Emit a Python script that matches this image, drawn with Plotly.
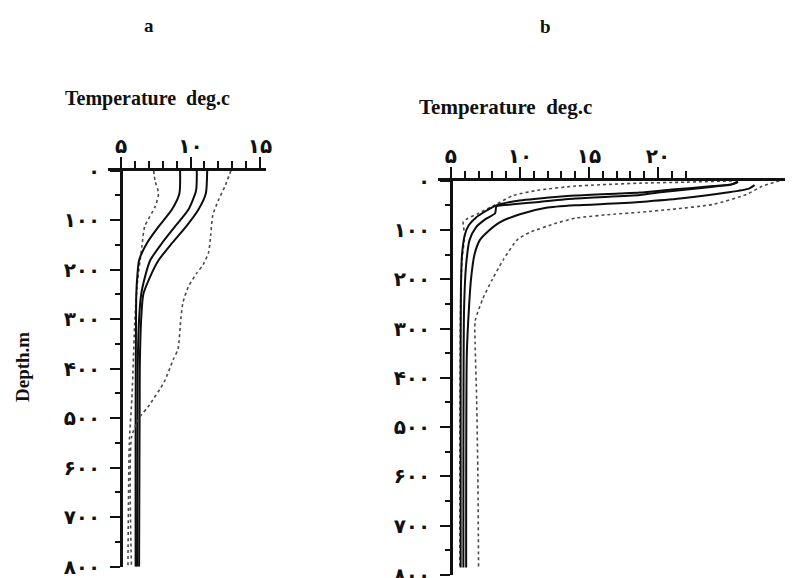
import plotly.graph_objects as go

W, H = 793, 578

# ---------------- data ----------------
# Panel a : (temperature deg C, depth m)
a_dot1_T = [7.35, 7.45, 7.7, 7.45, 6.7, 6.5, 6.37, 6.2, 6.0, 5.8, 5.6, 5.5]
a_dot1_D = [0, 20, 46, 73, 113, 154, 181, 220, 300, 450, 550, 800]
a_sol1_T = [9.25, 9.2, 8.65, 7.7, 6.85, 6.3, 6.17, 6.1, 6.08, 6.05, 6.05]
a_sol1_D = [0, 46, 79, 113, 147, 181, 214, 250, 300, 500, 800]
a_sol2_T = [10.45, 10.4, 9.84, 8.88, 7.93, 7.1, 6.73, 6.45, 6.3, 6.2, 6.15]
a_sol2_D = [0, 40, 79, 113, 147, 181, 214, 250, 300, 400, 800]
a_sol3_T = [11.2, 11.1, 10.56, 9.68, 8.65, 7.7, 7.1, 6.6, 6.45, 6.35, 6.3]
a_sol3_D = [0, 46, 79, 113, 147, 181, 214, 250, 300, 400, 800]
a_dot2_T = [12.9, 12.5, 12.0, 11.6, 11.45, 11.3, 10.9, 10.45, 9.85, 9.45, 9.3, 9.1, 8.75, 8.1, 6.95, 6.37, 5.77, 5.75]
a_dot2_D = [0, 30, 60, 90, 130, 165, 190, 207, 234, 267, 300, 360, 382, 427, 477, 497, 537, 800]

# Panel b
b_dot1_T = [25.8, 22, 18.7, 14, 11.4, 9.5, 8.2, 7.0, 5.9, 6.0, 5.8, 5.7, 5.65, 5.65]
b_dot1_D = [0, 3, 5, 11, 19, 30, 49, 66, 83, 110, 160, 250, 500, 785]
b_sol1_T = [25.8, 25.4, 24, 21, 18.7, 17.2, 14, 11.4, 9.5, 8.3, 7.5, 6.8, 6.3, 6.0, 5.8, 5.72, 5.7, 5.7]
b_sol1_D = [2, 7, 11, 18, 24, 26, 30, 36, 42, 50, 62, 75, 90, 110, 150, 220, 400, 785]
b_sol2_T = [25.8, 25.3, 23.5, 20, 18.7, 14, 11.4, 9.5, 8.3, 8.2, 7.5, 6.8, 6.35, 6.1, 5.95, 5.9]
b_sol2_D = [3, 8, 14, 24, 29, 36, 43, 48, 52, 66, 78, 95, 120, 170, 260, 785]
b_sol3_T = [27.0, 26.6, 25, 21.6, 18.7, 17.2, 14, 11.9, 10.0, 8.5, 7.6, 7.1, 6.7, 6.45, 6.3, 6.15, 6.1]
b_sol3_D = [9, 16, 24, 36, 43, 46, 50, 55, 68, 85, 105, 120, 150, 200, 260, 350, 785]
b_dot2_T = [28.8, 27.5, 26.4, 24, 21, 18.7, 16.8, 14, 12.66, 10.7, 9.8, 8.8, 8.0, 7.3, 6.75, 6.75, 6.86, 6.95, 7.0]
b_dot2_D = [0, 12, 28, 48, 58, 64, 68, 76, 86, 105, 120, 160, 200, 240, 285, 330, 444, 600, 785]

# ticks
depth_ticks = [0, 100, 200, 300, 400, 500, 600, 700, 800]
depth_labels = ["۰", "۱۰۰", "۲۰۰", "۳۰۰", "۴۰۰", "۵۰۰", "۶۰۰", "۷۰۰", "۸۰۰"]
depth_minor = [50, 150, 250, 350, 450, 550, 650, 750]
a_temp_ticks = [5, 10, 15]
a_temp_labels = ["۵", "۱۰", "۱۵"]
a_temp_minor = [6, 7, 8, 9, 11, 12, 13, 14]
b_temp_ticks = [5, 10, 15, 20]
b_temp_labels = ["۵", "۱۰", "۱۵", "۲۰"]
b_temp_minor = [6, 7, 8, 9, 11, 12, 13, 14, 16, 17, 18, 19, 21, 22]

# ---------------- figure ----------------
fig = go.Figure()

OFF = 8  # page body margin


def px(x):
    return (x - OFF) / W


def py(y):
    return 1 - (y - OFF) / H


SOLID = dict(color="#0d0d0d", width=2)
DOT = dict(color="#4a4a4a", width=1.6, dash="dot")

for T, D, st in [(a_dot1_T, a_dot1_D, DOT), (a_sol1_T, a_sol1_D, SOLID), (a_sol2_T, a_sol2_D, SOLID),
                 (a_sol3_T, a_sol3_D, SOLID), (a_dot2_T, a_dot2_D, DOT)]:
    fig.add_trace(go.Scatter(x=T, y=D, mode="lines", line=dict(shape="spline", smoothing=0.6, **st),
                             xaxis="x", yaxis="y", showlegend=False, hoverinfo="skip"))
for T, D, st in [(b_dot1_T, b_dot1_D, DOT), (b_sol1_T, b_sol1_D, SOLID), (b_sol2_T, b_sol2_D, SOLID),
                 (b_sol3_T, b_sol3_D, SOLID), (b_dot2_T, b_dot2_D, DOT)]:
    fig.add_trace(go.Scatter(x=T, y=D, mode="lines", line=dict(shape="spline", smoothing=0.6, **st),
                             xaxis="x2", yaxis="y2", showlegend=False, hoverinfo="skip"))

TICKFONT = dict(family="DejaVu Sans", size=20, color="#111111", weight="bold")


def xaxis(domain, rng, ticks, labels, minor, anchor):
    return dict(domain=domain, range=rng, side="top", anchor=anchor,
                showline=True, linecolor="#111111", linewidth=2.5,
                showgrid=False, zeroline=False,
                tickmode="array", tickvals=ticks, ticktext=labels,
                ticks="outside", ticklen=11, tickwidth=2, tickcolor="#111111",
                tickfont=TICKFONT, ticklabelstandoff=-4, ticklabeloverflow="allow",
                minor=dict(tickmode="array", tickvals=minor, ticks="outside",
                           ticklen=7, tickwidth=2, tickcolor="#111111", showgrid=False),
                automargin=False, fixedrange=True)


def yaxis(domain, rng, pos):
    return dict(domain=domain, range=rng, anchor="free", position=pos,
                showline=True, linecolor="#111111", linewidth=2.5,
                showgrid=False, zeroline=False,
                tickmode="array", tickvals=depth_ticks, ticktext=depth_labels,
                ticks="outside", ticklen=10, tickwidth=2, tickcolor="#111111",
                tickfont=TICKFONT, ticklabelstandoff=6, ticklabeloverflow="allow",
                minor=dict(tickmode="array", tickvals=depth_minor, ticks="outside",
                           ticklen=5, tickwidth=2, tickcolor="#111111", showgrid=False),
                automargin=False, fixedrange=True)


fig.update_layout(
    width=W, height=H,
    margin=dict(l=0, r=0, t=0, b=0),
    paper_bgcolor="white", plot_bgcolor="white",
    xaxis=xaxis([px(108), px(265.6)], [4.065, 15.4], a_temp_ticks, a_temp_labels, a_temp_minor, "y"),
    yaxis=yaxis([py(566.7), py(170.7)], [800, 0], px(121)),
    xaxis2=xaxis([px(438), 1.0], [4.06, 4.06 + (W + OFF - 438) / 13.8], b_temp_ticks, b_temp_labels, b_temp_minor, "y2"),
    yaxis2=yaxis([py(575), py(180.7)], [800, 0], px(451)),
    showlegend=False,
)

SERIF = "Liberation Serif"
ann = [
    dict(text="<b>a</b>", x=px(149), y=py(25), size=19),
    dict(text="<b>b</b>", x=px(545), y=py(26), size=19),
    dict(text="<b>Temperature  deg.c</b>", x=px(147), y=py(99), size=20),
    dict(text="<b>Temperature  deg.c</b>", x=px(505), y=py(107), size=21),
]
for a in ann:
    fig.add_annotation(text=a["text"], x=a["x"], y=a["y"], xref="paper", yref="paper",
                       showarrow=False, xanchor="center", yanchor="middle",
                       font=dict(family=SERIF, size=a["size"], color="#111111"))
fig.add_annotation(text="<b>Depth.m</b>", x=px(22), y=py(367), xref="paper", yref="paper",
                   showarrow=False, textangle=-90, xanchor="center", yanchor="middle",
                   font=dict(family=SERIF, size=19, color="#111111"))

fig.write_html("out.html")
